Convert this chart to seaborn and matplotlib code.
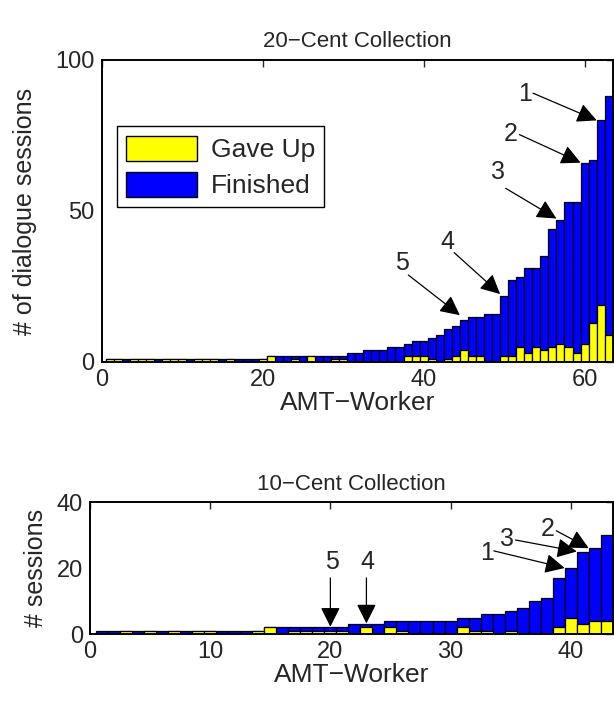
import numpy as np
import pandas as pd
import seaborn as sns
import matplotlib.pyplot as plt
from matplotlib.patches import Patch

## data: 20-cent collection (workers sorted by number of sessions)
top_workers = list(range(1, 64))
top_total = [1, 1, 1, 1, 1, 1, 1, 1, 1, 1, 1, 1, 1, 1, 1, 1, 1, 1, 1, 1,
             2, 2, 2, 2, 2, 2, 2, 2, 2, 2,
             3, 3, 4, 4, 4, 5, 5, 6, 7, 7, 8, 9, 11, 12, 14, 15, 15, 16, 16,
             22, 27, 28, 31, 31, 35, 44, 47, 53, 53, 66, 67, 80, 88]
top_gaveup = [1, 1, 0, 1, 1, 1, 0, 1, 1, 1, 0, 1, 1, 1, 0, 1, 0, 0, 0, 1,
              2, 0, 0, 1, 0, 2, 0, 0, 1, 1,
              0, 0, 0, 0, 0, 0, 0, 2, 2, 2, 1, 0, 1, 2, 4, 2, 2, 0, 0,
              2, 2, 5, 3, 5, 4, 5, 6, 5, 3, 6, 13, 19, 9]

## data: 10-cent collection
bot_workers = list(range(1, 44))
bot_total = [1, 1, 1, 1, 1, 1, 1, 1, 1, 1, 1, 1, 1, 1,
             2, 2, 2, 2, 2, 2, 2, 3, 3, 3, 4, 4, 4, 4, 4, 4,
             5, 5, 6, 6, 7, 8, 10, 11, 17, 20, 25, 26, 30]
bot_gaveup = [0, 0, 1, 0, 1, 0, 1, 0, 1, 1, 0, 0, 0, 1,
              2, 0, 1, 1, 1, 1, 1, 0, 2, 0, 2, 1, 0, 0, 0, 0,
              2, 1, 1, 0, 1, 0, 0, 0, 2, 5, 3, 4, 4]

## arrow annotations: label, label position, arrow tail, arrow tip (data coords)
top_marks = ['1', '2', '3', '4', '5']
top_text_xy = [(52.6, 88.7), (50.8, 75.5), (49.2, 62.9), (42.9, 39.7), (37.3, 32.7)]
top_tail_xy = [(53.6, 89.0), (51.9, 75.3), (50.2, 57.5), (43.8, 36.2), (38.1, 28.8)]
top_tip_xy = [(61.5, 80.0), (59.5, 66.0), (56.5, 47.5), (49.5, 22.5), (44.5, 15.5)]

bot_marks = ['5', '4', '1', '3', '2']
bot_text_xy = [(20.1, 21.7), (23.1, 21.7), (33.0, 24.6), (34.7, 28.7), (38.1, 31.7)]
bot_tail_xy = [(20.0, 17.0), (23.0, 17.0), (33.6, 25.2), (35.4, 28.5), (38.8, 31.3)]
bot_tip_xy = [(20.0, 2.2), (23.0, 3.2), (39.5, 20.0), (40.5, 25.0), (41.5, 26.0)]

YELLOW = '#ffff00'
BLUE = '#0000ff'

sns.set_style('white')
plt.rcParams['font.family'] = ['Liberation Sans', 'DejaVu Sans']
plt.rcParams['font.size'] = 17


def stacked(ax, workers, total, gaveup):
    df = pd.DataFrame({'worker': workers, 'total': total, 'gaveup': gaveup})
    sns.barplot(data=df, x='worker', y='total', native_scale=True, orient='x',
                width=1, color=BLUE, saturation=1, edgecolor='black',
                linewidth=0.9, errorbar=None, ax=ax)
    sns.barplot(data=df, x='worker', y='gaveup', native_scale=True, orient='x',
                width=1, color=YELLOW, saturation=1, edgecolor='black',
                linewidth=0.9, errorbar=None, ax=ax)


def matlab_axes(ax):
    for s in ax.spines.values():
        s.set_visible(True)
        s.set_color('black')
        s.set_linewidth(1.4)
    ax.tick_params(direction='in', top=True, right=True, length=5, width=1,
                   labelsize=17, pad=5)


def arrows(ax, marks, text_xy, tail_xy, tip_xy):
    for m, t, a, b in zip(marks, text_xy, tail_xy, tip_xy):
        ax.text(t[0], t[1], m, ha='center', va='center', fontsize=18)
        ax.annotate('', xy=b, xytext=a,
                    arrowprops=dict(arrowstyle='-|>,head_length=0.6,head_width=0.3',
                                    color='black', lw=0.9, mutation_scale=20,
                                    shrinkA=0, shrinkB=0))


fig = plt.figure(figsize=(6.14, 7.04), dpi=100)

ax1 = fig.add_axes([0.1656, 0.4858, 0.8324, 0.429])
stacked(ax1, top_workers, top_total, top_gaveup)
ax1.set_xlim(0, 63.5)
ax1.set_ylim(0, 100)
ax1.set_xticks([0, 20, 40, 60])
ax1.set_yticks([0, 50, 100])
ax1.set_xlabel('AMT\u2212Worker', fontsize=19, labelpad=0)
ax1.set_ylabel('# of dialogue sessions', fontsize=18, labelpad=13)
ax1.set_title('20\u2212Cent Collection', fontsize=16, pad=9)
matlab_axes(ax1)
arrows(ax1, top_marks, top_text_xy, top_tail_xy, top_tip_xy)
handles = [Patch(facecolor=YELLOW, edgecolor='black', label='Gave Up'),
           Patch(facecolor=BLUE, edgecolor='black', label='Finished')]
leg = ax1.legend(handles=handles, loc='upper left', bbox_to_anchor=(0.03, 0.78),
                 borderaxespad=0, fontsize=19, fancybox=False, edgecolor='black',
                 framealpha=1, handlelength=2.7, handleheight=1.1, handletextpad=0.5,
                 borderpad=0.35, labelspacing=0.35)
leg.get_frame().set_linewidth(1.0)

ax2 = fig.add_axes([0.1466, 0.0994, 0.8514, 0.1875])
stacked(ax2, bot_workers, bot_total, bot_gaveup)
ax2.set_xlim(0, 43.5)
ax2.set_ylim(0, 40)
ax2.set_xticks([0, 10, 20, 30, 40])
ax2.set_yticks([0, 20, 40])
ax2.set_xlabel('AMT\u2212Worker', fontsize=19, labelpad=0)
ax2.set_ylabel('# sessions', fontsize=18, labelpad=6)
ax2.set_title('10\u2212Cent Collection', fontsize=16, pad=9)
matlab_axes(ax2)
arrows(ax2, bot_marks, bot_text_xy, bot_tail_xy, bot_tip_xy)

fig.savefig('out.png', dpi=100)
